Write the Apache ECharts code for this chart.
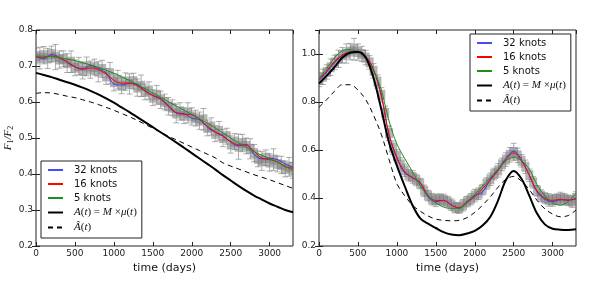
<!DOCTYPE html>
<html><head><meta charset="utf-8">
<script src="https://cdn.jsdelivr.net/npm/echarts@6/dist/echarts.min.js"></script>
<style>html,body{margin:0;padding:0;background:#fff}#c{width:600px;height:300px}</style>
</head><body><div id="c"></div>
<script>
// ---- data ----
const xTicks = [0, 500, 1000, 1500, 2000, 2500, 3000];
const yTicksLeft = [0.2, 0.3, 0.4, 0.5, 0.6, 0.7, 0.8];
const yTicksRight = [0.2, 0.4, 0.6, 0.8, 1.0];
const seriesNames = ['32 knots', '16 knots', '5 knots', 'A(t) = M×μ(t)', 'Â(t)'];

const days100 = [0,100,200,300,400,500,600,700,800,900,1000,1100,1200,1300,1400,1500,1600,1700,1800,1900,2000,2100,2200,2300,2400,2500,2600,2700,2800,2900,3000,3100,3200,3300];
const days50 = [0,50,100,150,200,250,300,350,400,450,500,550,600,650,700,750,800,850,900,950,1000,1050,1100,1150,1200,1250,1300,1350,1400,1450,1500,1550,1600,1650,1700,1750,1800,1850,1900,1950,2000,2050,2100,2150,2200,2250,2300,2350,2400,2450,2500,2550,2600,2650,2700,2750,2800,2850,2900,2950,3000,3050,3100,3150,3200,3250,3300];

// left panel
const L_obs = [.728,.722,.730,.721,.733,.725,.718,.720,.708,.712,.695,.700,.686,.699,.690,.697,.684,.692,.671,.680,.655,.662,.645,.657,.650,.658,.640,.645,.628,.632,.612,.620,.606,.600,.588,.584,.568,.574,.562,.570,.560,.555,.548,.552,.528,.532,.512,.520,.500,.505,.482,.490,.476,.486,.478,.470,.458,.442,.436,.445,.432,.440,.428,.425,.414,.420,.410];
const L_err = [.022,.030,.024,.028,.022,.035,.024,.022,.026,.030,.022,.024,.022,.026,.024,.022,.028,.024,.022,.030,.024,.026,.022,.024,.028,.022,.024,.030,.022,.024,.022,.026,.024,.022,.024,.022,.026,.024,.022,.028,.024,.022,.024,.030,.022,.024,.022,.026,.024,.022,.024,.022,.035,.024,.022,.028,.024,.022,.026,.022,.024,.030,.022,.024,.022,.026,.022];
const L_k32 = [.727,.720,.732,.724,.710,.697,.692,.701,.693,.681,.650,.647,.652,.648,.632,.618,.608,.588,.570,.568,.555,.551,.530,.516,.507,.488,.478,.482,.455,.442,.444,.440,.428,.418];
const L_k16 = [.725,.724,.728,.722,.712,.698,.691,.695,.690,.678,.660,.652,.653,.645,.630,.618,.610,.590,.570,.566,.565,.552,.533,.517,.505,.490,.481,.480,.463,.444,.440,.434,.420,.416];
const L_k5  = [.728,.727,.726,.723,.719,.715,.709,.703,.696,.688,.680,.670,.660,.649,.637,.625,.613,.601,.589,.577,.565,.553,.541,.528,.514,.500,.487,.474,.462,.452,.443,.433,.422,.410];
const L_A   = [.681,.675,.669,.662,.655,.648,.640,.631,.621,.610,.598,.585,.572,.558,.544,.530,.516,.502,.488,.473,.458,.443,.428,.413,.397,.382,.367,.353,.340,.329,.318,.309,.300,.294];
const L_Ah  = [.624,.626,.625,.621,.616,.612,.606,.600,.593,.585,.577,.568,.559,.549,.538,.527,.516,.505,.495,.485,.475,.465,.455,.445,.431,.422,.414,.406,.398,.391,.384,.376,.368,.360];

// right panel
const R_obs = [.892,.905,.925,.945,.965,.980,.995,1.002,1.010,1.020,1.008,1.000,.985,.965,.930,.885,.830,.755,.670,.610,.575,.540,.515,.495,.488,.475,.460,.430,.410,.395,.390,.395,.392,.385,.372,.360,.358,.370,.385,.395,.410,.418,.435,.460,.478,.500,.515,.540,.560,.580,.592,.578,.555,.530,.495,.465,.430,.410,.400,.392,.390,.395,.398,.395,.390,.385,.400];
const R_err = [.028,.032,.030,.034,.030,.036,.032,.040,.034,.045,.034,.032,.030,.028,.030,.028,.030,.028,.030,.028,.026,.028,.026,.024,.026,.024,.022,.024,.022,.024,.026,.022,.024,.022,.024,.022,.022,.024,.022,.024,.026,.024,.022,.024,.026,.024,.028,.026,.028,.030,.036,.030,.026,.028,.026,.024,.022,.024,.022,.026,.024,.022,.026,.024,.022,.024,.026];
const R_k32 = [.890,.925,.965,.995,1.010,1.012,.990,.935,.825,.660,.565,.505,.485,.462,.405,.385,.390,.372,.358,.385,.410,.425,.478,.520,.565,.595,.560,.495,.425,.395,.385,.392,.392,.395];
const R_k16 = [.895,.930,.970,.995,1.008,1.010,.990,.935,.830,.665,.570,.510,.485,.465,.410,.390,.390,.370,.360,.383,.405,.440,.475,.515,.560,.588,.555,.495,.430,.400,.390,.395,.390,.400];
const R_k5  = [.900,.940,.985,1.013,1.018,1.008,.980,.930,.850,.720,.625,.565,.510,.450,.410,.380,.362,.357,.357,.380,.415,.450,.485,.520,.555,.570,.555,.520,.455,.410,.380,.370,.385,.420];
const R_A   = [.877,.910,.945,.985,1.005,1.008,.985,.900,.770,.630,.535,.450,.370,.315,.293,.275,.258,.248,.245,.252,.263,.285,.322,.390,.475,.513,.480,.410,.335,.290,.272,.268,.267,.270];
const R_Ah  = [.778,.810,.845,.872,.872,.850,.810,.745,.665,.560,.460,.410,.370,.345,.325,.312,.307,.305,.307,.318,.340,.370,.405,.445,.478,.490,.470,.435,.390,.355,.333,.322,.327,.350];

// ---- helpers ----
const pair = (xs, ys) => xs.map((x, i) => [x, ys[i]]);
const triple = (xs, ys, es) => xs.map((x, i) => [x, ys[i], es[i]]);

function renderErr(params, api) {
  const x = api.value(0), y = api.value(1), e = api.value(2);
  const p = api.coord([x, y]);
  const lo = api.coord([x, y - e]);
  const hi = api.coord([x, y + e]);
  const st = {stroke: 'rgba(110,110,110,0.55)', lineWidth: 1};
  return {type: 'group', children: [
    {type: 'line', shape: {x1: p[0], y1: lo[1], x2: p[0], y2: hi[1]}, style: st},
    {type: 'line', shape: {x1: p[0]-3, y1: lo[1], x2: p[0]+3, y2: lo[1]}, style: st},
    {type: 'line', shape: {x1: p[0]-3, y1: hi[1], x2: p[0]+3, y2: hi[1]}, style: st},
    {type: 'rect', shape: {x: p[0]-4, y: p[1]-5, width: 8, height: 10}, style: {fill: 'rgba(120,120,120,0.55)'}}
  ]};
}

const colors = {'32 knots': 'rgba(40,40,255,0.85)', '16 knots': '#ff0000', '5 knots': '#1a8f1a', 'A(t) = M×μ(t)': '#000', 'Â(t)': '#000'};
function lineSeries(name, gi, xs, ys) {
  const ls = {color: colors[name], width: 1};
  if (name === 'A(t) = M×μ(t)') ls.width = 2;
  if (name === 'Â(t)') ls.type = [5, 4];
  return {type: 'line', name, xAxisIndex: gi * 2, yAxisIndex: gi * 2, data: pair(xs, ys),
    showSymbol: false, symbol: 'none', smooth: 0.35, lineStyle: ls, itemStyle: {color: colors[name]},
    clip: true, z: 3, silent: true, animation: false};
}

const grids = [
  {left: 36, right: 307, top: 30, bottom: 54},
  {left: 319, right: 24, top: 30, bottom: 54}
].map(g => Object.assign(g, {show: true, borderColor: '#222', borderWidth: 1, backgroundColor: 'transparent'}));

const tickStyle = {show: true, inside: true, length: 4, lineStyle: {color: '#222', width: 1}};
const labelFont = {fontFamily: 'DejaVu Sans', fontSize: 9, color: '#222'};

function xAxes(gi) {
  const base = {type: 'value', gridIndex: gi, min: 0, max: 3300, interval: 500,
    axisLine: {show: false}, splitLine: {show: false}, axisTick: tickStyle};
  return [
    Object.assign({}, base, {position: 'bottom', name: 'time (days)', nameLocation: 'middle', nameGap: 16,
      nameTextStyle: {fontFamily: 'DejaVu Sans', fontSize: 11, color: '#111'},
      axisLabel: Object.assign({margin: 3, showMaxLabel: false, formatter: v => String(v)}, labelFont)}),
    Object.assign({}, base, {position: 'top', axisLabel: {show: false}})
  ];
}
function yAxes(gi, min, max, interval, withName) {
  const base = {type: 'value', gridIndex: gi, min, max, interval,
    axisLine: {show: false}, splitLine: {show: false}, axisTick: tickStyle};
  const left = Object.assign({}, base, {position: 'left',
    axisLabel: Object.assign({margin: 3, showMaxLabel: gi === 0, formatter: v => v.toFixed(1)}, labelFont)});
  if (withName) {
    left.name = '{i|F}{s|1}{i|/F}{s|2}';
    left.nameLocation = 'middle';
    left.nameRotate = 90;
    left.nameGap = 20;
    left.nameTextStyle = {rich: {
      i: {fontFamily: 'Liberation Serif', fontStyle: 'italic', fontSize: 11, lineHeight: 13, color: '#111'},
      s: {fontFamily: 'Liberation Serif', fontSize: 8, lineHeight: 13, verticalAlign: 'bottom', color: '#111'}
    }};
  }
  return [left, Object.assign({}, base, {position: 'right', axisLabel: {show: false}})];
}

const rich = {
  t: {fontFamily: 'DejaVu Sans', fontSize: 10, color: '#111', padding: [0, 0, 0, 6]},
  i: {fontFamily: 'Liberation Serif', fontStyle: 'italic', fontSize: 11, color: '#111'},
  r: {fontFamily: 'Liberation Serif', fontSize: 11, color: '#111'},
  p: {fontFamily: 'Liberation Serif', fontSize: 11, color: '#111', padding: [0, 0, 0, 6]}
};
function legendFmt(name) {
  if (name === 'A(t) = M×μ(t)') return '{p|}{i|A}{r|(}{i|t}{r|) = }{i|M}{r| ×}{i|μ}{r|(}{i|t}{r|)}';
  if (name === 'Â(t)') return '{p|}{i|Â}{r|(}{i|t}{r|)}';
  return '{t|' + name + '}';
}
function legend(pos) {
  return Object.assign({orient: 'vertical', data: seriesNames, itemWidth: 15, itemHeight: 8, itemGap: 4,
    padding: [4, 5, 5, 6], borderColor: '#222', borderWidth: 1, backgroundColor: '#fff',
    itemStyle: {opacity: 0}, lineStyle: {},
    formatter: legendFmt, textStyle: {rich}, selectedMode: false, z: 10}, pos);
}

const series = [
  {type: 'custom', xAxisIndex: 0, yAxisIndex: 0, data: triple(days50, L_obs, L_err), renderItem: renderErr, clip: true, silent: true, z: 2, animation: false},
  {type: 'custom', xAxisIndex: 2, yAxisIndex: 2, data: triple(days50, R_obs, R_err), renderItem: renderErr, clip: true, silent: true, z: 2, animation: false},
  lineSeries('32 knots', 0, days100, L_k32),
  lineSeries('16 knots', 0, days100, L_k16),
  lineSeries('5 knots', 0, days100, L_k5),
  lineSeries('A(t) = M×μ(t)', 0, days100, L_A),
  lineSeries('Â(t)', 0, days100, L_Ah),
  lineSeries('32 knots', 1, days100, R_k32),
  lineSeries('16 knots', 1, days100, R_k16),
  lineSeries('5 knots', 1, days100, R_k5),
  lineSeries('A(t) = M×μ(t)', 1, days100, R_A),
  lineSeries('Â(t)', 1, days100, R_Ah)
];

const chart = echarts.init(document.getElementById('c'), null, {renderer: 'canvas'});
chart.setOption({
  animation: false,
  backgroundColor: '#fff',
  grid: grids,
  xAxis: [...xAxes(0), ...xAxes(1)],
  yAxis: [...yAxes(0, 0.2, 0.8, 0.1, true), ...yAxes(1, 0.2, 1.1, 0.2, false)],
  legend: [legend({left: 41, top: 161}), legend({left: 470, top: 34})],
  series
});
</script></body></html>
